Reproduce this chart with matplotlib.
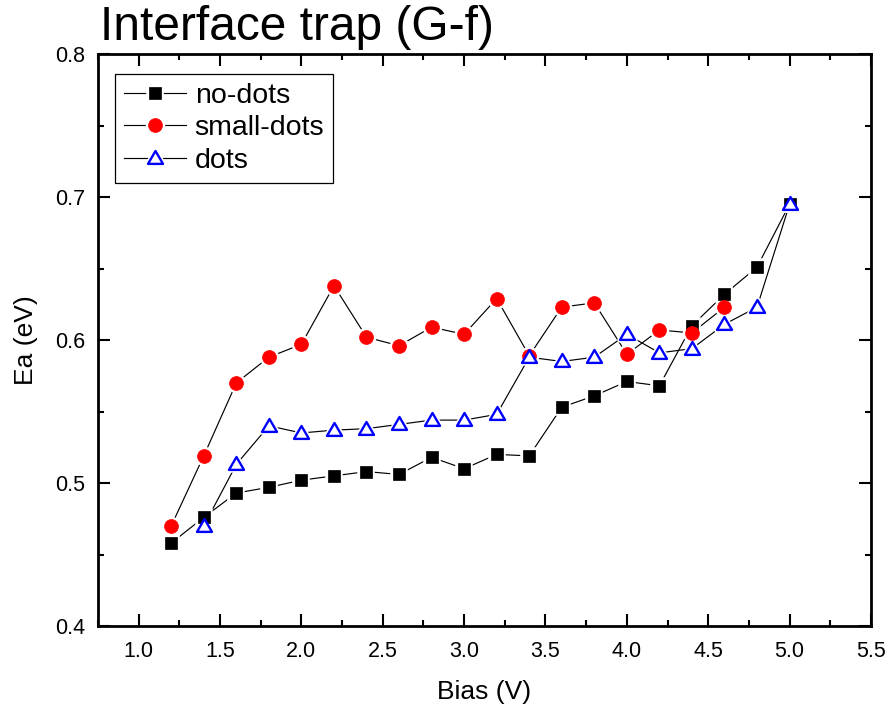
import matplotlib
matplotlib.use("Agg")
import matplotlib.pyplot as plt
from matplotlib.ticker import MultipleLocator
from matplotlib.path import Path
from matplotlib.legend_handler import HandlerTuple

plt.rcParams["font.family"] = ["Liberation Sans", "DejaVu Sans"]

# Activation energy vs bias for the three samples
bias_nodots = [1.2, 1.4, 1.6, 1.8, 2.0, 2.2, 2.4, 2.6, 2.8, 3.0,
               3.2, 3.4, 3.6, 3.8, 4.0, 4.2, 4.4, 4.6, 4.8, 5.0]
ea_nodots   = [0.458, 0.476, 0.493, 0.497, 0.502, 0.505, 0.508, 0.506, 0.518, 0.510,
               0.520, 0.519, 0.553, 0.561, 0.571, 0.568, 0.610, 0.632, 0.651, 0.695]

bias_small  = [1.2, 1.4, 1.6, 1.8, 2.0, 2.2, 2.4, 2.6, 2.8, 3.0,
               3.2, 3.4, 3.6, 3.8, 4.0, 4.2, 4.4, 4.6]
ea_small    = [0.470, 0.519, 0.570, 0.588, 0.597, 0.638, 0.602, 0.596, 0.609, 0.604,
               0.629, 0.589, 0.623, 0.626, 0.590, 0.607, 0.605, 0.623]

bias_dots   = [1.4, 1.6, 1.8, 2.0, 2.2, 2.4, 2.6, 2.8, 3.0,
               3.2, 3.4, 3.6, 3.8, 4.0, 4.2, 4.4, 4.6, 4.8, 5.0]
ea_dots     = [0.470, 0.513, 0.540, 0.535, 0.537, 0.538, 0.541, 0.544, 0.544,
               0.548, 0.588, 0.585, 0.588, 0.604, 0.591, 0.594, 0.611, 0.623, 0.695]

labels      = ["no-dots", "small-dots", "dots"]

# Triangle a bit flatter than the default '^'
tri = Path([(-1, -0.72), (1, -0.72), (0, 1.0), (-1, -0.72)],
           [Path.MOVETO, Path.LINETO, Path.LINETO, Path.CLOSEPOLY])

styles = [
  dict(marker="s", ms=8.8, mfc="black", mec="black", mew=0.5),
  dict(marker="o", ms=10.0, mfc="red", mec="red", mew=0.5),
  dict(marker=tri, ms=10.8, mfc="white", mec="blue", mew=1.7),
]

fig = plt.figure(figsize=(8.9, 7.13), dpi=100)
ax = fig.add_axes([0.1101, 0.1220, 0.8685, 0.8022])

series = [(bias_nodots, ea_nodots), (bias_small, ea_small), (bias_dots, ea_dots)]
handles = []
for k, ((x, y), st) in enumerate(zip(series, styles)):
  ln, = ax.plot(x, y, color="black", lw=0.85, zorder=1)
  # white halo leaves a small gap between the line and each marker
  halo, = ax.plot(x, y, ls="none", marker=st["marker"], ms=st["ms"],
                  mfc="white", mec="white", mew=4.0, zorder=2)
  mk, = ax.plot(x, y, ls="none", zorder=3 + k, **st)
  handles.append((ln, halo, mk))

ax.set_xlim(0.75, 5.5)
ax.set_ylim(0.4, 0.8)
ax.xaxis.set_major_locator(MultipleLocator(0.5))
ax.xaxis.set_minor_locator(MultipleLocator(0.25))
ax.yaxis.set_major_locator(MultipleLocator(0.1))
ax.yaxis.set_minor_locator(MultipleLocator(0.05))
ax.xaxis.set_major_formatter(plt.FuncFormatter(lambda v, p: f"{v:.1f}"))
ax.yaxis.set_major_formatter(plt.FuncFormatter(lambda v, p: f"{v:.1f}"))

ax.tick_params(which="both", direction="in", top=True, right=True, width=1.5)
ax.tick_params(which="major", length=8.5, labelsize=15.5)
ax.tick_params(axis="x", which="major", pad=11)
ax.tick_params(axis="y", which="major", pad=9)
ax.tick_params(which="minor", length=4.5)
for sp in ax.spines.values():
  sp.set_linewidth(2.0)

ax.set_xlabel("Bias (V)", fontsize=19)
ax.set_ylabel("Ea (eV)", fontsize=19)
ax.xaxis.set_label_coords(0.5, -0.115)
ax.xaxis.label.set_va("center")
ax.yaxis.set_label_coords(-0.093, 0.5)
ax.yaxis.label.set_va("center")

leg = ax.legend(handles, labels, loc="upper left", bbox_to_anchor=(0.022, 0.965),
                borderaxespad=0, fontsize=20.5, handlelength=2.2, handletextpad=0.3,
                labelspacing=0.24, borderpad=0.3, fancybox=False, framealpha=1,
                edgecolor="black", handler_map={tuple: HandlerTuple(ndivide=1, pad=0)})
leg.get_frame().set_linewidth(0.9)

fig.text(0.1124, 0.944, "Interface trap (G-f)", fontsize=34.5, ha="left", va="baseline")

fig.savefig("out.png", dpi=100)
